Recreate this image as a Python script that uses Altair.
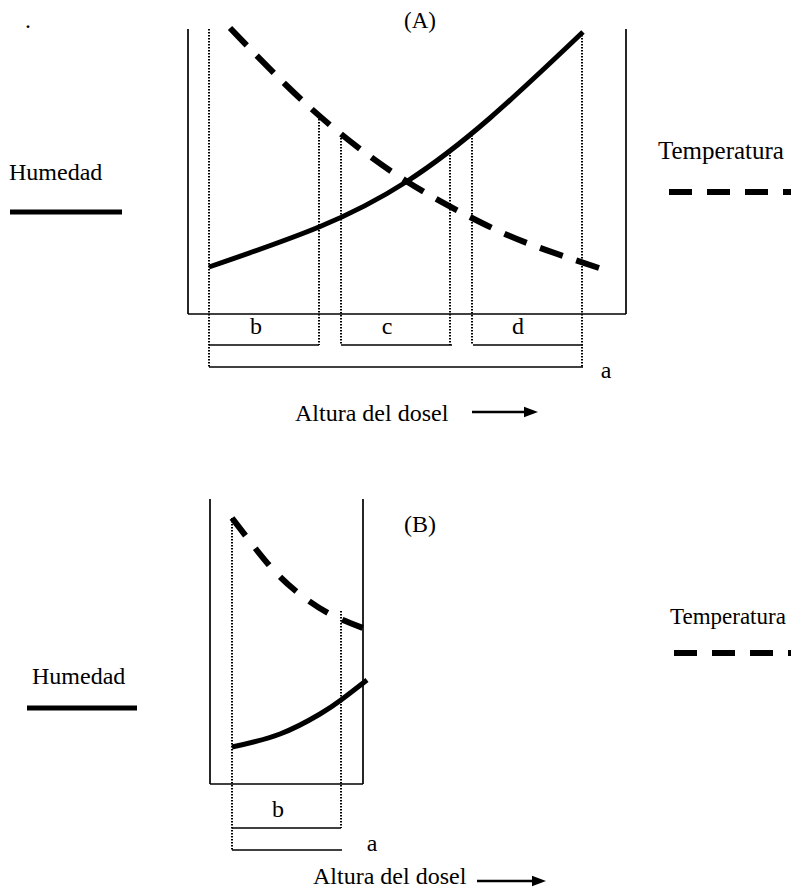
import altair as alt
import pandas as pd

# ---------------- data (canvas pixel coordinates of the diagram) ----------------
# Panel A curves
hum_a_x = [209, 319, 406, 490, 583]
hum_a_y = [267, 227, 182, 118, 32]
temp_a_x = [230, 286, 341, 406, 472, 527, 599]
temp_a_y = [28, 85, 134, 181, 218, 243, 268]
# Panel B curves
hum_b_x = [232, 280, 320, 341, 367]
hum_b_y = [747, 734, 714, 700, 680]
temp_b_x = [232, 269, 297, 328, 363]
temp_b_y = [518, 565, 592, 613, 628]

# Segments: kind, x, y, x2, y2
seg_kind = []
seg_x = []
seg_y = []
seg_x2 = []
seg_y2 = []


def seg(kind, x, y, x2, y2):
    seg_kind.append(kind); seg_x.append(x); seg_y.append(y); seg_x2.append(x2); seg_y2.append(y2)


# Panel A box (open top)
seg("box", 188, 29, 188, 314)
seg("box", 626, 29, 626, 314)
seg("box", 188, 314, 626, 314)
# Panel A dotted guides
for gx, gy1, gy2 in [(209, 29, 367), (319, 116, 345), (341, 135, 345),
                     (450, 152, 345), (472, 135, 345), (582, 32, 367)]:
    seg("dot", gx, gy1, gx, gy2)
# Panel A brackets
seg("bracket", 209, 345, 319, 345)
seg("bracket", 341, 345, 452, 345)
seg("bracket", 473, 345, 583, 345)
seg("bracket", 209, 367, 583, 367)
# Panel A legends and arrow
seg("leg_solid", 10, 212, 122, 212)
seg("leg_dash", 669, 192, 799, 192)
seg("arrow", 472, 412, 526, 412)

# Panel B box
seg("box", 210, 499, 210, 784)
seg("box", 363, 499, 363, 784)
seg("box", 210, 784, 363, 784)
# Panel B dotted guides
seg("dot", 232, 518, 232, 850)
seg("dot", 341, 611, 341, 828)
# Panel B brackets
seg("bracket", 232, 828, 341, 828)
seg("bracket", 232, 850, 342, 850)
# Panel B legends and arrow
seg("leg_solid", 27, 708, 137, 708)
seg("leg_dash", 674, 653, 799, 653)
seg("arrow", 477, 881, 534, 881)

# Arrow heads
head_x = [531, 539]
head_y = [412, 881]

# Texts
txt_label = ["(A)", "Humedad", "Temperatura", "b", "c", "d", "a", "Altura del dosel", ".",
             "(B)", "Humedad", "Temperatura", "b", "a", "Altura del dosel"]
txt_x = [420, 9, 658, 256, 387, 518, 606, 295, 25,
         420, 32, 670, 278, 372, 313]
txt_y = [28, 180, 159, 334, 334, 334, 378, 421, 28,
         532, 684, 624, 817, 851, 884]
txt_align = ["center", "left", "left", "center", "center", "center", "center", "left", "left",
             "center", "left", "left", "center", "center", "left"]
txt_size = [23, 24, 25, 24, 24, 24, 24, 24, 24,
            24, 24, 23, 24, 24, 24]

# ---------------- build tables ----------------
rows = []
for name, xs_, ys_ in [("hum_a", hum_a_x, hum_a_y), ("temp_a", temp_a_x, temp_a_y),
                       ("hum_b", hum_b_x, hum_b_y), ("temp_b", temp_b_x, temp_b_y)]:
    for i, (xx, yy) in enumerate(zip(xs_, ys_)):
        rows.append({"curve": name, "order": i, "x": xx, "y": yy})
curves = pd.DataFrame(rows)

segs = pd.DataFrame({"kind": seg_kind, "x": seg_x, "y": seg_y, "x2": seg_x2, "y2": seg_y2})
heads = pd.DataFrame({"x": head_x, "y": head_y})
texts = pd.DataFrame({"label": txt_label, "x": txt_x, "y": txt_y,
                      "align": txt_align, "fs": txt_size})

W, H = 783, 880
xs = alt.Scale(domain=[8, 8 + W], nice=False, zero=False)
ys = alt.Scale(domain=[8, 8 + H], nice=False, zero=False, reverse=True)
X = alt.X("x:Q", scale=xs, axis=None)
Y = alt.Y("y:Q", scale=ys, axis=None)

base_seg = alt.Chart(segs)


def rule_layer(kind, **props):
    return base_seg.transform_filter(alt.datum.kind == kind).mark_rule(
        color="black", strokeCap="butt", **props
    ).encode(x=X, y=Y, x2="x2:Q", y2="y2:Q")


box = rule_layer("box", strokeWidth=1.7)
dots = rule_layer("dot", strokeWidth=2, strokeDash=[1.5, 1.5])
brackets = rule_layer("bracket", strokeWidth=1.6)
leg_solid = rule_layer("leg_solid", strokeWidth=5)
leg_dash = rule_layer("leg_dash", strokeWidth=6, strokeDash=[23, 15])
arrows = rule_layer("arrow", strokeWidth=2.6)

solid = alt.Chart(curves).transform_filter(
    alt.FieldOneOfPredicate(field="curve", oneOf=["hum_a", "hum_b"])
).mark_line(color="black", strokeWidth=5, interpolate="natural", strokeCap="butt").encode(
    x=X, y=Y, detail="curve:N", order="order:Q")

dashed_a = alt.Chart(curves).transform_filter(
    alt.datum.curve == "temp_a"
).mark_line(color="black", strokeWidth=6, interpolate="natural", strokeCap="butt",
            strokeDash=[24, 14.4]).encode(
    x=X, y=Y, order="order:Q")

dashed_b = alt.Chart(curves).transform_filter(
    alt.datum.curve == "temp_b"
).mark_line(color="black", strokeWidth=6, interpolate="natural", strokeCap="butt",
            strokeDash=[22, 16]).encode(
    x=X, y=Y, order="order:Q")

head_layer = alt.Chart(heads).mark_point(
    shape="M-1,-0.75L1,0L-1,0.75Z", filled=True, size=196, color="black", opacity=1, strokeWidth=0
).encode(x=X, y=Y)


def text_layer(align):
    return alt.Chart(texts).transform_filter(alt.datum.align == align).mark_text(
        align=align, baseline="alphabetic", font="Liberation Serif", color="black"
    ).encode(x=X, y=Y, text="label:N", size=alt.Size("fs:Q", scale=None))


chart = alt.layer(
    box, dots, brackets, leg_solid, leg_dash, arrows, solid, dashed_a, dashed_b, head_layer,
    text_layer("left"), text_layer("center")
).properties(width=W, height=H, padding=0, autosize=alt.AutoSizeParams(type="none")
).configure_view(stroke=None)

chart.save("out.html", embed_options={"renderer": "svg", "actions": False})
